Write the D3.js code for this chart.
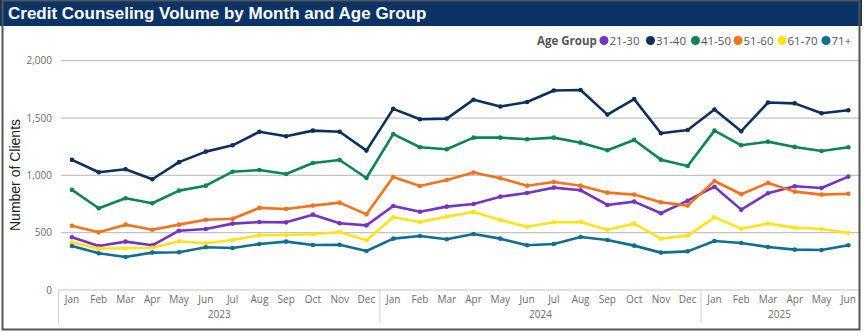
<!DOCTYPE html>
<head>
    <meta charset="utf-8">
    <title>Credit Counseling Volume</title>
    <script src="https://d3js.org/d3.v7.min.js"></script>
    <style>
        body {
            margin: 0;
            background: #fff;
        }
        svg {
            display: block;
        }
        .tick-label {
            font-family: "Open Sans", "Noto Sans", sans-serif;
            font-size: 10px;
            fill: #6b6b6b;
        }
        .grid line {
            stroke: #c4c4c4;
            stroke-width: 1.2px;
        }
    </style>
</head>
<body>
    <svg id="chart" width="864" height="333"></svg>
    <script>
        var months = ["Jan", "Feb", "Mar", "Apr", "May", "Jun", "Jul", "Aug", "Sep", "Oct", "Nov", "Dec",
            "Jan", "Feb", "Mar", "Apr", "May", "Jun", "Jul", "Aug", "Sep", "Oct", "Nov", "Dec",
            "Jan", "Feb", "Mar", "Apr", "May", "Jun"];
        var years = ["2023", "2024", "2025"];
        var yearOfMonth = months.map(function(m, i) { return years[Math.floor(i / 12)]; });
        var yTicks = [0, 500, 1000, 1500, 2000];

        var groups = ["21-30", "31-40", "41-50", "51-60", "61-70", "71+"];
        var colors = ["#7534c0", "#0c2f5e", "#0b8553", "#f4711d", "#ffe21c", "#0f6e91"];

        var age2130 = [460, 384, 422, 390, 517, 532, 579, 593, 590, 657, 582, 564,
            733, 683, 727, 750, 814, 846, 893, 870, 742, 771, 669, 779,
            901, 701, 844, 905, 890, 989];
        var age3140 = [1135, 1027, 1053, 966, 1115, 1207, 1262, 1380, 1341, 1390, 1380, 1216,
            1580, 1489, 1495, 1660, 1600, 1640, 1740, 1745, 1530, 1665, 1367, 1396,
            1575, 1385, 1635, 1628, 1542, 1568];
        var age4150 = [873, 713, 800, 757, 867, 910, 1032, 1047, 1012, 1108, 1134, 977,
            1360, 1245, 1228, 1329, 1329, 1315, 1329, 1285, 1219, 1309, 1137, 1082,
            1390, 1262, 1294, 1248, 1213, 1245];
        var age5160 = [561, 503, 570, 526, 570, 613, 622, 716, 707, 736, 762, 660,
            985, 907, 960, 1024, 975, 910, 942, 910, 849, 832, 765, 736,
            951, 835, 934, 858, 832, 840];
        var age6170 = [416, 361, 364, 369, 425, 407, 436, 477, 480, 486, 506, 434,
            634, 593, 640, 681, 611, 552, 591, 593, 526, 579, 448, 474,
            634, 535, 579, 544, 532, 500];
        var age71 = [384, 320, 288, 326, 329, 373, 366, 401, 422, 393, 395, 340,
            448, 471, 442, 489, 448, 390, 401, 462, 436, 387, 326, 337,
            428, 410, 375, 352, 349, 390];

        var series = [age2130, age3140, age4150, age5160, age6170, age71];

        var svg = d3.select("#chart");

        // title bar
        svg.append("rect")
            .attr("x", 0).attr("y", 0).attr("width", 862).attr("height", 26)
            .attr("fill", "#0b3366");
        svg.append("text")
            .attr("x", 8).attr("y", 19)
            .attr("fill", "#fff")
            .style("font-family", "Liberation Sans, Arial, sans-serif")
            .style("font-weight", "bold")
            .style("font-size", "17px")
            .text("Credit Counseling Volume by Month and Age Group");

        var x = d3.scaleBand()
            .domain(d3.range(months.length))
            .range([58.6, 861.7]);
        var y = d3.scaleLinear()
            .domain([0, 2000])
            .range([290, 60.7]);
        var cx = function(i) { return x(i) + x.bandwidth() / 2; };

        // gridlines
        svg.append("g").attr("class", "grid")
            .selectAll("line")
            .data(yTicks.filter(function(d) { return d > 0; }))
            .enter().append("line")
            .attr("x1", 61).attr("x2", 861)
            .attr("y1", function(d) { return y(d); })
            .attr("y2", function(d) { return y(d); });

        // y tick labels
        svg.append("g").selectAll("text")
            .data(yTicks).enter().append("text")
            .attr("class", "tick-label")
            .attr("x", 52).attr("y", function(d) { return y(d) + 3.5; })
            .attr("text-anchor", "end")
            .text(function(d) { return d3.format(",")(d); });

        // y title
        svg.append("text")
            .attr("transform", "translate(20,175) rotate(-90)")
            .attr("text-anchor", "middle")
            .attr("fill", "#222")
            .style("font-family", "Liberation Sans, Arial, sans-serif")
            .style("font-size", "14px")
            .text("Number of Clients");

        // x axis line
        svg.append("line")
            .attr("x1", x(0)).attr("x2", 861)
            .attr("y1", y(0)).attr("y2", y(0))
            .attr("stroke", "#c4c4c4").attr("stroke-width", 1.2);

        // month labels
        svg.append("g").selectAll("text")
            .data(months).enter().append("text")
            .attr("class", "tick-label")
            .attr("x", function(d, i) { return cx(i); })
            .attr("y", 303)
            .attr("text-anchor", "middle")
            .text(function(d) { return d; });

        // year groups
        years.forEach(function(yr) {
            var idx = d3.range(months.length).filter(function(i) { return yearOfMonth[i] === yr; });
            var x0 = x(idx[0]);
            var x1 = x(idx[idx.length - 1]) + x.bandwidth();
            svg.append("line")
                .attr("x1", x0).attr("x2", x0)
                .attr("y1", y(0)).attr("y2", 323)
                .attr("stroke", "#d0d0d0").attr("stroke-width", 1);
            svg.append("text")
                .attr("class", "tick-label")
                .attr("x", (x0 + Math.min(x1, 858)) / 2)
                .attr("y", 318)
                .attr("text-anchor", "middle")
                .text(yr);
        });

        // lines
        var line = d3.line()
            .x(function(d, i) { return cx(i); })
            .y(function(d) { return y(d); });

        series.forEach(function(s, k) {
            var g = svg.append("g");
            g.append("path")
                .datum(s)
                .attr("d", line)
                .attr("fill", "none")
                .attr("stroke", colors[k])
                .attr("stroke-width", 2.6)
                .attr("stroke-linejoin", "round");
            g.selectAll("circle")
                .data(s).enter().append("circle")
                .attr("cx", function(d, i) { return cx(i); })
                .attr("cy", function(d) { return y(d); })
                .attr("r", 2.3)
                .attr("fill", colors[k]);
        });

        // legend
        var legend = svg.append("g");
        legend.append("text")
            .attr("x", 537).attr("y", 44.5)
            .attr("fill", "#555")
            .style("font-family", "Open Sans, Noto Sans, sans-serif")
            .style("font-weight", "bold")
            .style("font-size", "11.5px")
            .text("Age Group");
        var legendX = [604, 650.5, 695.5, 738, 782, 826];
        groups.forEach(function(gname, k) {
            legend.append("circle")
                .attr("cx", legendX[k]).attr("cy", 40.5).attr("r", 4.5)
                .attr("fill", colors[k]);
            legend.append("text")
                .attr("x", legendX[k] + 5.5).attr("y", 44.5)
                .attr("fill", "#555")
                .style("font-family", "Open Sans, Noto Sans, sans-serif")
                .style("font-size", "11.5px")
                .text(gname);
        });

        // outer frame
        svg.append("rect")
            .attr("x", 2.5).attr("y", 0.5).attr("width", 857).attr("height", 329)
            .attr("fill", "none")
            .attr("stroke", "#555").attr("stroke-width", 2);
    </script>
</body>
